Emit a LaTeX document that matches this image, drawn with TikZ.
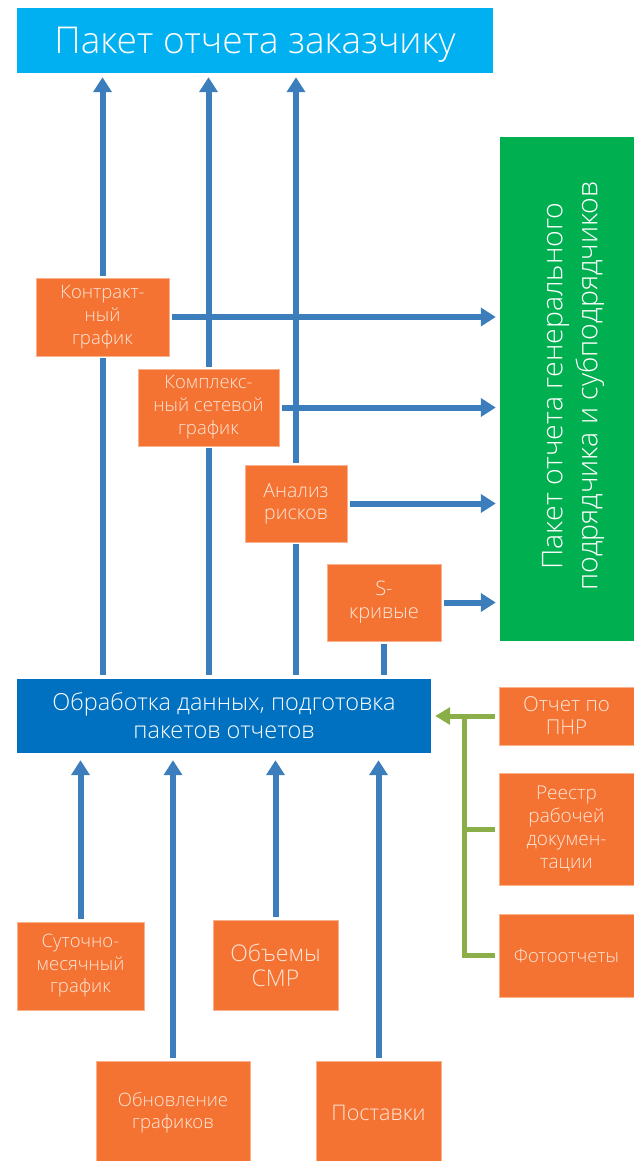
\documentclass[tikz,border=0pt]{standalone}
\usepackage{fontspec}
\setmainfont{Open Sans}[UprightFont={* Light}]
\usetikzlibrary{arrows.meta}
\definecolor{topblue}{HTML}{00B0F0}
\definecolor{boxblue}{HTML}{0070C0}
\definecolor{gbox}{HTML}{00B050}
\definecolor{orangec}{HTML}{F47332}
\definecolor{arrblue}{HTML}{3C7EBB}
\definecolor{olivec}{HTML}{8AAE48}
\definecolor{paletext}{HTML}{FDE6DA}
\pgfdeclarelayer{bg}
\pgfsetlayers{bg,main}
\begin{document}
\begin{tikzpicture}[x=1pt,y=-1pt,
  obox/.style={rectangle, fill=orangec, draw=orangec!55!white, line width=0.8pt,
    preaction={draw=white, line width=4.5pt}, text=paletext, align=center, inner sep=0pt},
  barrow/.style={draw=arrblue, line width=6pt, -{Triangle[length=15pt,width=18pt]}},
  bline/.style={draw=arrblue, line width=6pt},
  garrow/.style={draw=olivec, line width=5pt, -{Triangle[length=15pt,width=17pt]}},
  gline/.style={draw=olivec, line width=5pt},
  fa/.style={font=\fontsize{18.5}{23}\selectfont},
  fb/.style={font=\fontsize{23}{25}\selectfont}
]
\useasboundingbox (0,0) rectangle (634,1161);
% banners
\node[fill=topblue, minimum width=476pt, minimum height=65pt, inner sep=0pt, text depth=0pt,
  text=white, font=\fontsize{37}{44}\selectfont] (top) at (255,40.5) {Пакет отчета заказчику};
\node[fill=gbox, rotate=90, minimum width=504pt, minimum height=134pt, inner sep=0pt] (gp) at (567,389) {};
\node[rotate=90, inner sep=0pt, text=white, align=center, font=\fontsize{28.5}{35}\selectfont] (gpt) at (573,386)
  {Пакет отчета генерального\\подрядчика и субподрядчиков};
\node[fill=boxblue, minimum width=414pt, minimum height=74pt, inner sep=0pt,
  text=white, align=center, font=\fontsize{23.5}{28}\selectfont] (obr) at (224,716)
  {Обработка данных, подготовка\\пакетов отчетов};
% orange boxes
\node[obox, fa, minimum width=133pt, minimum height=78pt] (kontr) at (102.5,317) {Контракт-\\ный\\график};
\node[obox, fa, minimum width=141pt, minimum height=77pt] (kompl) at (208.5,407.5) {Комплекс-\\ный сетевой\\график};
\node[obox, font=\fontsize{19.5}{22}\selectfont, minimum width=102pt, minimum height=77pt] (analiz) at (296,503.5) {Анализ\\рисков};
\node[obox, font=\fontsize{20}{23}\selectfont, minimum width=114pt, minimum height=77pt] (skriv) at (384,602.5) {S-\\кривые};
\node[obox, font=\fontsize{20.5}{23}\selectfont, minimum width=135pt, minimum height=58pt] (pnr) at (566.5,716) {Отчет по\\ПНР};
\node[obox, font=\fontsize{19}{23}\selectfont, minimum width=135pt, minimum height=112pt] (reestr) at (566.5,829) {Реестр\\рабочей\\докумен-\\тации};
\node[obox, fa, minimum width=135pt, minimum height=83pt] (foto) at (566.5,955.5) {Фотоотчеты};
\node[obox, font=\fontsize{18.5}{22.5}\selectfont, minimum width=127pt, minimum height=88pt] (sut) at (80.5,966) {Суточно-\\месячный\\график};
\node[obox, fb, minimum width=125pt, minimum height=90pt] (obem) at (275.5,965) {Объемы\\СМР};
\node[obox, font=\fontsize{18.5}{22}\selectfont, minimum width=154pt, minimum height=104pt] (obnov) at (173,1113) {Обновление\\графиков};
\node[obox, font=\fontsize{21.5}{25}\selectfont, minimum width=125pt, minimum height=104pt] (post) at (378.5,1113) {Поставки};
\path (pnr.west) ++(-34,0) coordinate (j);
\begin{pgfonlayer}{bg}
  \foreach \b in {kontr,kompl,analiz}
    \draw[barrow, shorten <=4pt, shorten >=4pt] (\b.center |- obr.north) -- (\b.center |- top.south);
  \foreach \b in {kontr,kompl,analiz,skriv}
    \draw[barrow, shorten <=3pt, shorten >=4pt] (\b.east) -- (\b.east -| gp.north);
  \draw[bline, shorten <=3pt, shorten >=4pt] (skriv.south) -- (skriv.south |- obr.north);
  \foreach \b in {sut,obnov,obem,post}
    \draw[barrow, shorten <=3pt, shorten >=7pt] (\b.north) -- (\b.north |- obr.south);
  \draw[garrow, shorten <=4pt, shorten >=4pt] (pnr.west) -- (pnr.west -| obr.east);
  \draw[gline, shorten <=4pt] (reestr.west) -- (reestr.west -| j);
  \draw[gline, shorten <=4pt] (foto.west) -| (j);
\end{pgfonlayer}
\end{tikzpicture}
\end{document}
